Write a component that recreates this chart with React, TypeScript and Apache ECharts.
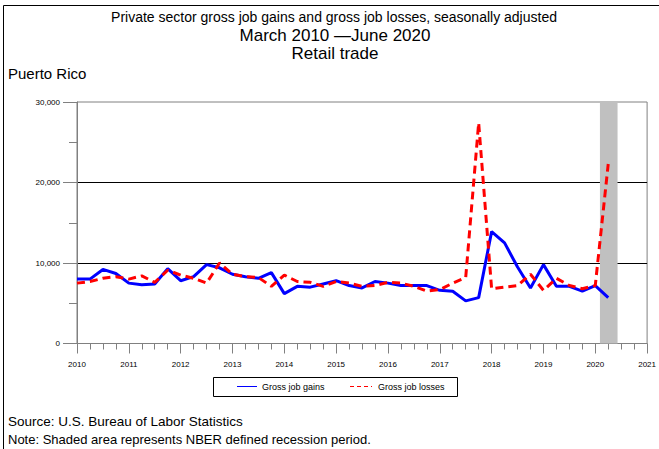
import React, { useEffect, useRef } from "react";
import * as echarts from "echarts";

const startYear = 2010;
const yearTicks = [2010, 2011, 2012, 2013, 2014, 2015, 2016, 2017, 2018, 2019, 2020, 2021];
const yTicks = [0, 10000, 20000, 30000];

// Quarterly values, March 2010 - June 2020 (thousands)
const grossJobGains = [
  8.0, 8.0, 9.2, 8.7, 7.5, 7.3, 7.4, 9.3, 7.8, 8.3, 9.8, 9.4, 8.6, 8.3, 8.1, 8.8,
  6.2, 7.1, 7.0, 7.4, 7.8, 7.2, 6.9, 7.7, 7.5, 7.2, 7.2, 7.2, 6.6, 6.5, 5.3, 5.7,
  13.9, 12.5, 9.5, 6.9, 9.8, 7.1, 7.1, 6.5, 7.2, 5.7,
];
const grossJobLosses = [
  7.5, 7.7, 8.1, 8.3, 8.0, 8.4, 7.6, 9.1, 8.5, 8.1, 7.5, 10.0, 8.6, 8.3, 8.2, 7.1,
  8.5, 7.7, 7.6, 7.1, 7.7, 7.5, 7.1, 7.2, 7.6, 7.5, 7.1, 6.5, 6.7, 7.5, 8.2, 27.4,
  6.8, 7.0, 7.2, 8.6, 6.6, 8.1, 7.2, 6.8, 7.2, 22.3,
];
const recession = [2020.09, 2020.43];
const seriesNames = ["Gross job gains", "Gross job losses"];

const FONT = "'Liberation Sans', Arial, sans-serif";

export default function App() {
  const ref = useRef<HTMLDivElement>(null);
  useEffect(() => {
    document.body.style.margin = "0";
    if (!ref.current) return;
    const chart = echarts.init(ref.current, null, { renderer: "svg" });
    const toPairs = (arr: number[]) => arr.map((v, i) => [startYear + i / 4, v * 1000]);
    const txt = (text: string, x: number, y: number, size: number, align: string) => ({
      type: "text",
      x,
      y,
      style: {
        text,
        fontSize: size,
        fontFamily: FONT,
        fill: "#000",
        textAlign: align,
        textVerticalAlign: "middle",
      },
    });
    chart.setOption({
      animation: false,
      backgroundColor: "#fff",
      textStyle: { fontFamily: FONT },
      grid: {
        left: 77,
        right: 11,
        top: 102,
        bottom: 105.5,
        show: true,
        borderColor: "#808080",
        borderWidth: 1,
        backgroundColor: "transparent",
      },
      xAxis: {
        type: "value",
        min: yearTicks[0],
        max: yearTicks[yearTicks.length - 1],
        interval: 1,
        axisLine: { show: true, lineStyle: { color: "#808080", width: 1 } },
        axisTick: { show: true, length: 10, lineStyle: { color: "#808080" } },
        minorTick: { show: true, splitNumber: 4, length: 6, lineStyle: { color: "#808080" } },
        splitLine: { show: false },
        axisLabel: {
          margin: 17,
          fontSize: 8,
          color: "#000",
          fontFamily: FONT,
          formatter: (v: number) => String(v),
        },
      },
      yAxis: {
        type: "value",
        min: yTicks[0],
        max: yTicks[yTicks.length - 1],
        interval: 10000,
        axisLine: { show: true, lineStyle: { color: "#808080", width: 1 } },
        axisTick: { show: true, length: 14, lineStyle: { color: "#808080" } },
        minorTick: { show: true, splitNumber: 2, length: 8, lineStyle: { color: "#808080" } },
        splitLine: {
          show: true,
          showMinLine: false,
          showMaxLine: false,
          lineStyle: { color: "#000", width: 1 },
        },
        axisLabel: {
          margin: 17,
          fontSize: 8,
          color: "#000",
          fontFamily: FONT,
          formatter: (v: number) => v.toLocaleString("en-US"),
        },
      },
      series: [
        {
          name: seriesNames[0],
          type: "line",
          symbol: "none",
          data: toPairs(grossJobGains),
          lineStyle: { color: "#0000ff", width: 3 },
          itemStyle: { color: "#0000ff" },
          z: 3,
          markArea: {
            silent: true,
            itemStyle: { color: "#c0c0c0" },
            data: [[{ xAxis: recession[0] }, { xAxis: recession[1] }]],
          },
        },
        {
          name: seriesNames[1],
          type: "line",
          symbol: "none",
          data: toPairs(grossJobLosses),
          lineStyle: { color: "#ff0000", width: 3, type: [8, 5] },
          itemStyle: { color: "#ff0000" },
          z: 4,
        },
      ],
      graphic: [
        {
          type: "polyline",
          shape: { points: [[3.5, 449], [3.5, 5.5], [659, 5.5]] },
          style: { stroke: "#000", lineWidth: 1, fill: "none" },
        },
        txt("Private sector gross job gains and gross job losses, seasonally adjusted", 334, 17, 14, "center"),
        txt("March 2010 \u2014June 2020", 335, 35, 17, "center"),
        txt("Retail trade", 335, 53, 17, "center"),
        txt("Puerto Rico", 8, 73, 15, "left"),
        txt("Source: U.S. Bureau of Labor Statistics", 8, 421, 13.5, "left"),
        txt("Note: Shaded area represents NBER defined recession period.", 8, 439, 13, "left"),
        // legend
        {
          type: "rect",
          shape: { x: 213.5, y: 377.5, width: 244, height: 19 },
          style: { stroke: "#000", lineWidth: 1, fill: "#fff" },
        },
        {
          type: "line",
          shape: { x1: 237, y1: 386.5, x2: 257, y2: 386.5 },
          style: { stroke: "#0000ff", lineWidth: 1 },
        },
        txt(seriesNames[0], 262, 387, 9, "left"),
        {
          type: "line",
          shape: { x1: 350, y1: 386.5, x2: 372, y2: 386.5 },
          style: { stroke: "#ff0000", lineWidth: 1, lineDash: [4, 3] },
        },
        txt(seriesNames[1], 378, 387, 9, "left"),
      ],
    });
    return () => chart.dispose();
  }, []);
  return (
    <div
      ref={ref}
      style={{ position: "absolute", left: 0, top: 0, width: 659, height: 449 }}
    />
  );
}
